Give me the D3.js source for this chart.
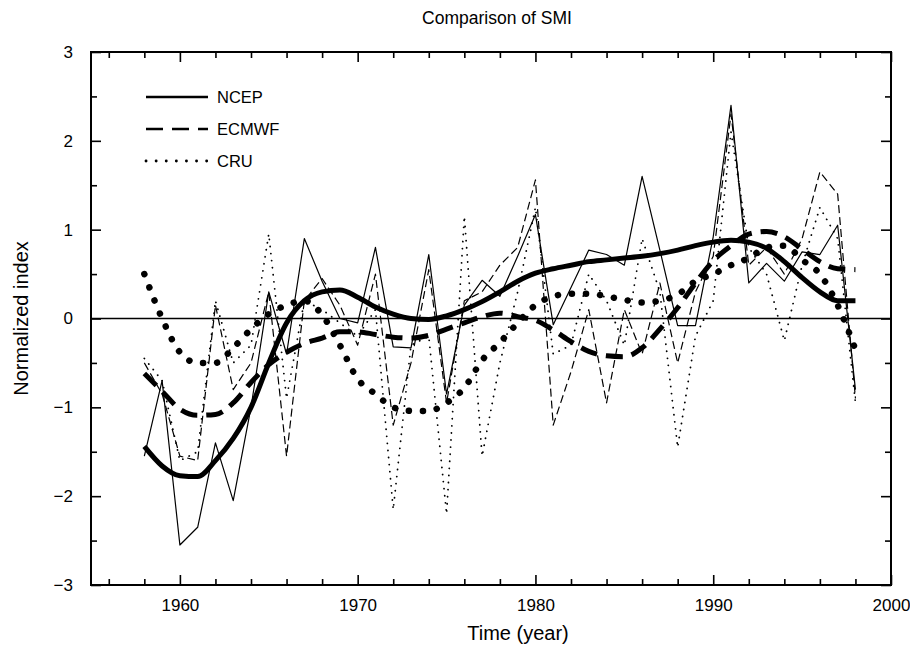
<!DOCTYPE html>
<html>
<head>
<meta charset="utf-8">
<script src="https://cdn.jsdelivr.net/npm/d3@7"></script>
<style>
  html, body { margin: 0; padding: 0; background: #fff; }
  svg text { font-family: "Liberation Sans", Arial, Helvetica, sans-serif; fill: #000; }
</style>
</head>
<body>
<svg id="chart" width="910" height="652"></svg>
<script>
// Years covered by the three soil moisture index series
const years = d3.range(1958, 1999);

// Annual normalized index values
const ncep = [-1.55, -0.7, -2.55, -2.35, -1.4, -2.05, -1.0, 0.3, -0.4, 0.9,
  0.42, 0.0, -0.05, 0.8, -0.32, -0.33, 0.72, -0.85, 0.15, 0.43,
  0.25, 0.7, 1.17, -0.07, 0.35, 0.77, 0.72, 0.6, 1.6, 0.77,
  -0.08, -0.08, 0.92, 2.4, 0.4, 0.62, 0.42, 0.75, 0.72, 1.05, -0.8];
const ecmwf = [-0.5, -0.85, -1.55, -1.6, 0.15, -0.8, -0.5, 0.3, -1.55, 0.2,
  0.45, 0.15, -0.3, 0.5, -1.2, -0.5, 0.55, -0.95, 0.2, 0.3,
  0.6, 0.8, 1.56, -1.2, -0.6, 0.1, -0.95, 0.1, -0.4, 0.4,
  -0.5, 0.3, 0.7, 2.3, 0.6, 0.8, 0.5, 0.9, 1.65, 1.4, -0.9];
const cru = [-0.45, -0.7, -1.6, -1.5, 0.2, -0.5, -0.3, 0.95, -0.9, 0.2,
  0.1, -0.05, -0.2, 0.1, -2.15, -0.3, -0.2, -2.2, 1.15, -1.55,
  -0.5, 0.3, 1.25, -0.4, -0.3, 0.5, 0.2, -0.3, 0.9, 0.3,
  -1.45, -0.2, 0.2, 2.1, 0.8, 0.5, -0.25, 0.6, 1.25, 0.9, -0.95];

// Low-frequency (smoothed) components of each series
const ncepSmooth = [-1.44, -1.66, -1.77, -1.78, -1.6, -1.35, -1.0, -0.5, -0.05, 0.2,
  0.3, 0.32, 0.24, 0.13, 0.05, 0.0, -0.01, 0.03, 0.1, 0.19,
  0.3, 0.42, 0.51, 0.56, 0.6, 0.64, 0.66, 0.68, 0.7, 0.73,
  0.77, 0.82, 0.86, 0.88, 0.86, 0.79, 0.64, 0.46, 0.3, 0.2, 0.2];
const ecmwfSmooth = [-0.62, -0.82, -1.02, -1.09, -1.08, -0.95, -0.72, -0.52, -0.38, -0.28,
  -0.22, -0.15, -0.15, -0.18, -0.21, -0.22, -0.19, -0.12, -0.05, 0.02,
  0.06, 0.02, -0.02, -0.13, -0.26, -0.37, -0.42, -0.43, -0.33, -0.12,
  0.12, 0.4, 0.65, 0.82, 0.95, 0.98, 0.92, 0.78, 0.64, 0.56, 0.55];
const cruSmooth = [0.5, 0.0, -0.38, -0.5, -0.5, -0.33, -0.12, 0.05, 0.15, 0.2,
  0.04, -0.3, -0.68, -0.85, -1.0, -1.04, -1.04, -0.95, -0.78, -0.47,
  -0.27, -0.05, 0.15, 0.25, 0.28, 0.28, 0.25, 0.21, 0.18, 0.2,
  0.27, 0.42, 0.5, 0.6, 0.68, 0.8, 0.82, 0.66, 0.5, 0.15, -0.35];

// Axis tick values
const xMajorTicks = [1960, 1970, 1980, 1990, 2000];
const xMinorTicks = d3.range(1956, 2000, 2).filter(v => v % 10 !== 0);
const yMajorTicks = [-3, -2, -1, 0, 1, 2, 3];
const yMinorTicks = [-2.5, -1.5, -0.5, 0.5, 1.5, 2.5];

const legendItems = ["NCEP", "ECMWF", "CRU"];

const svg = d3.select("#chart");
const L = 91, R = 891, T = 52, B = 585;
const x = d3.scaleLinear().domain([1955, 2000]).range([L, R]);
const y = d3.scaleLinear().domain([-3, 3]).range([B, T]);

const fmt = v => (v < 0 ? "\u2212" + Math.abs(v) : String(v));

// Line generators: raw annual series and their smooth trends
const lineThin = d3.line().x((d, i) => x(years[i])).y(d => y(d));
const lineSmooth = d3.line().x((d, i) => x(years[i])).y(d => y(d)).curve(d3.curveMonotoneX);

const plot = svg.append("g");

const styles = {
  solidThin: { w: 1.2, dash: null, cap: "butt" },
  dashThin: { w: 1.2, dash: "8,4", cap: "butt" },
  dotThin: { w: 1.8, dash: "0.1,7", cap: "round" },
  solidThick: { w: 5, dash: null, cap: "butt" },
  dashThick: { w: 5, dash: "17,9", cap: "butt" },
  dotThick: { w: 6.5, dash: "0.1,14", cap: "round" }
};

function drawSeries(data, gen, st) {
  plot.append("path")
    .datum(data)
    .attr("d", gen)
    .attr("fill", "none")
    .attr("stroke", "#000")
    .attr("stroke-width", st.w)
    .attr("stroke-linecap", st.cap)
    .attr("stroke-linejoin", "round")
    .attr("stroke-dasharray", st.dash);
}

drawSeries(cru, lineThin, styles.dotThin);
drawSeries(ecmwf, lineThin, styles.dashThin);
drawSeries(ncep, lineThin, styles.solidThin);
drawSeries(cruSmooth, lineSmooth, styles.dotThick);
drawSeries(ecmwfSmooth, lineSmooth, styles.dashThick);
drawSeries(ncepSmooth, lineSmooth, styles.solidThick);

// Zero reference line
svg.append("line")
  .attr("x1", L).attr("x2", R)
  .attr("y1", y(0)).attr("y2", y(0))
  .attr("stroke", "#000").attr("stroke-width", 1.3);

// Axes with inward ticks on all four sides
function styleAxis(g) {
  g.select(".domain").remove();
  g.selectAll(".tick line").attr("stroke", "#000").attr("stroke-width", 1.6);
  g.selectAll("text").style("font-size", "17px");
}

svg.append("g").attr("transform", `translate(0,${B})`)
  .call(d3.axisBottom(x).tickValues(xMajorTicks).tickSize(-10).tickPadding(14).tickFormat(d3.format("d")))
  .call(styleAxis);
svg.append("g").attr("transform", `translate(0,${B})`)
  .call(d3.axisBottom(x).tickValues(xMinorTicks).tickSize(-6).tickFormat(""))
  .call(styleAxis);
svg.append("g").attr("transform", `translate(0,${T})`)
  .call(d3.axisTop(x).tickValues(xMajorTicks).tickSize(-10).tickFormat(""))
  .call(styleAxis);
svg.append("g").attr("transform", `translate(0,${T})`)
  .call(d3.axisTop(x).tickValues(xMinorTicks).tickSize(-6).tickFormat(""))
  .call(styleAxis);

svg.append("g").attr("transform", `translate(${L},0)`)
  .call(d3.axisLeft(y).tickValues(yMajorTicks).tickSize(-10).tickPadding(18).tickFormat(fmt))
  .call(styleAxis);
svg.append("g").attr("transform", `translate(${L},0)`)
  .call(d3.axisLeft(y).tickValues(yMinorTicks).tickSize(-6).tickFormat(""))
  .call(styleAxis);
svg.append("g").attr("transform", `translate(${R},0)`)
  .call(d3.axisRight(y).tickValues(yMajorTicks).tickSize(-10).tickFormat(""))
  .call(styleAxis);
svg.append("g").attr("transform", `translate(${R},0)`)
  .call(d3.axisRight(y).tickValues(yMinorTicks).tickSize(-6).tickFormat(""))
  .call(styleAxis);

// Plot frame
svg.append("rect")
  .attr("x", L).attr("y", T).attr("width", R - L).attr("height", B - T)
  .attr("fill", "none").attr("stroke", "#000").attr("stroke-width", 2);

// Titles
svg.append("text").attr("x", 497).attr("y", 24).attr("text-anchor", "middle")
  .style("font-size", "17.5px").text("Comparison of SMI");
svg.append("text").attr("x", 518).attr("y", 640).attr("text-anchor", "middle")
  .style("font-size", "20px").text("Time (year)");
svg.append("text").attr("transform", `translate(28,${y(0)}) rotate(-90)`)
  .attr("text-anchor", "middle").style("font-size", "20px").text("Normalized index");

// Legend
const legendStyles = [
  { dash: null, cap: "butt", w: 2.6 },
  { dash: "17,9", cap: "butt", w: 2.6 },
  { dash: "0.1,10", cap: "round", w: 2.8 }
];
const legend = svg.append("g");
legendItems.forEach((name, i) => {
  const ly = 97 + i * 32;
  legend.append("line")
    .attr("x1", 146).attr("x2", 208).attr("y1", ly).attr("y2", ly)
    .attr("stroke", "#000").attr("stroke-width", legendStyles[i].w)
    .attr("stroke-linecap", legendStyles[i].cap)
    .attr("stroke-dasharray", legendStyles[i].dash);
  legend.append("text").attr("x", 217).attr("y", ly + 6)
    .style("font-size", "16.5px").text(name);
});
</script>
</body>
</html>
